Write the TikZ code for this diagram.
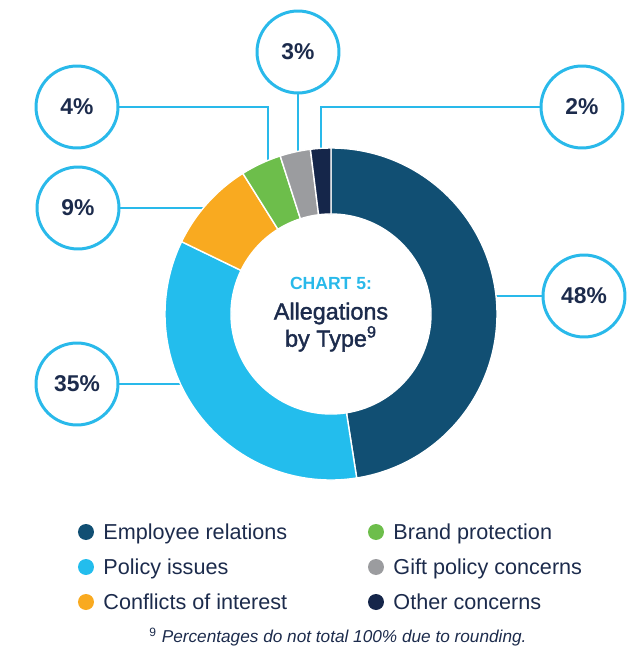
\documentclass[tikz,border=0pt]{standalone}
\usepackage{fontspec}
\setmainfont{Liberation Sans}
\newfontfamily\medfont[FakeBold=1.6]{Liberation Sans}
\usetikzlibrary{positioning}
\definecolor{erel}{HTML}{114F73}
\definecolor{policy}{HTML}{23BDED}
\definecolor{conflict}{HTML}{F9AA20}
\definecolor{brand}{HTML}{6DBE4B}
\definecolor{gift}{HTML}{9B9C9F}
\definecolor{other}{HTML}{15264A}
\definecolor{ringblue}{HTML}{29B9EA}
\definecolor{navytext}{HTML}{1C2B4C}

\begin{document}
\begin{tikzpicture}[x=0.02cm, y=0.02cm,
  ring/.style={circle, draw=ringblue, line width=1.7pt, fill=white, minimum size=1.64cm, inner sep=0pt, text=navytext, font=\fontsize{13}{15}\selectfont\bfseries},
  leader/.style={draw=ringblue, line width=1.1pt},
  seg/.style={draw=white, line width=0.8pt},
  dot/.style={circle, inner sep=0pt, minimum size=0.32cm},
  keytext/.style={inner sep=0pt, text height=8.8pt, text depth=0pt, text=navytext, font=\fontsize{12.3}{14}\selectfont}]
\useasboundingbox (-331,-335) rectangle (303,314);

% callouts
\node [ring] (p48) at (253,18) {48\%};
\node [ring] (p35) at (-254,-70) {35\%};
\node [ring] (p9) at (-253,106) {9\%};
\node [ring] (p4) at (-254,207) {4\%};
\node [ring] (p3) at (-33,262) {3\%};
\node [ring] (p2) at (251,207) {2\%};

\coordinate (c48) at (165,18);
\coordinate (c35) at (-151,-70);
\coordinate (c9) at (-128,106);
\coordinate (c4) at (-63,154);
\coordinate (c3) at (-33,163);
\coordinate (c2) at (-10,166);

\draw [leader] (p48.west) -- (c48);
\draw [leader] (p35.east) -- (c35);
\draw [leader] (p9.east) -- (c9);
\draw [leader] (p4.east) -| (c4);
\draw [leader] (p3.south) -- (c3);
\draw [leader] (p2.west) -| (c2);

% donut
\path [seg, fill=erel] (90:166) arc [start angle=90, end angle=-81.09, radius=166] -- (-81.09:100) arc [start angle=-81.09, end angle=90, radius=100] -- cycle;
\path [seg, fill=policy] (-81.09:166) arc [start angle=-81.09, end angle=-205.84, radius=166] -- (-205.84:100) arc [start angle=-205.84, end angle=-81.09, radius=100] -- cycle;
\path [seg, fill=conflict] (-205.84:166) arc [start angle=-205.84, end angle=-237.92, radius=166] -- (-237.92:100) arc [start angle=-237.92, end angle=-205.84, radius=100] -- cycle;
\path [seg, fill=brand] (-237.92:166) arc [start angle=-237.92, end angle=-252.18, radius=166] -- (-252.18:100) arc [start angle=-252.18, end angle=-237.92, radius=100] -- cycle;
\path [seg, fill=gift] (-252.18:166) arc [start angle=-252.18, end angle=-262.87, radius=166] -- (-262.87:100) arc [start angle=-262.87, end angle=-252.18, radius=100] -- cycle;
\path [seg, fill=other] (-262.87:166) arc [start angle=-262.87, end angle=-270, radius=166] -- (-270:100) arc [start angle=-270, end angle=-262.87, radius=100] -- cycle;

\node [anchor=base, text=ringblue, font=\fontsize{10}{12}\selectfont\bfseries] (title) at (0,24) {CHART 5:};
\node [below=0pt of title, align=center, text=navytext, font=\medfont\fontsize{13.3}{12.8}\selectfont] (name) {Allegations\\by Type\textsuperscript{9}};

% legend
\node [dot, fill=erel] (d1) at (-245,-218) {};
\node [keytext, right=5pt of d1] (k1) {Employee relations};
\node [dot, fill=policy] (d2) at (-245,-253) {};
\node [keytext, right=5pt of d2] (k2) {Policy issues};
\node [dot, fill=conflict] (d3) at (-245,-288) {};
\node [keytext, right=5pt of d3] (k3) {Conflicts of interest};
\node [dot, fill=brand] (d4) at (45,-218) {};
\node [keytext, right=5pt of d4] (k4) {Brand protection};
\node [dot, fill=gift] (d5) at (45,-253) {};
\node [keytext, right=5pt of d5] (k5) {Gift policy concerns};
\node [dot, fill=other] (d6) at (45,-288) {};
\node [keytext, right=5pt of d6] (k6) {Other concerns};

\node [text=navytext, font=\fontsize{9.8}{12}\selectfont\itshape] (note) at (7,-323) {{\upshape\textsuperscript{9}} Percentages do not total 100\% due to rounding.};
\end{tikzpicture}
\end{document}
